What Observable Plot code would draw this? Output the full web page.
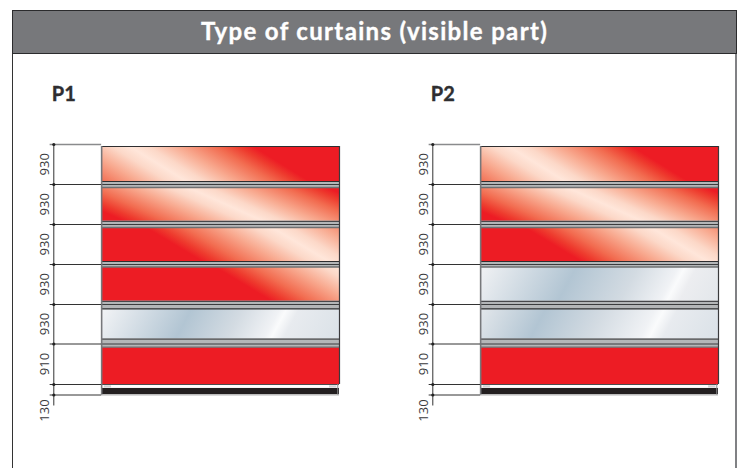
<!DOCTYPE html>
<html><head><meta charset="utf-8">
<script src="https://cdn.jsdelivr.net/npm/d3@7"></script>
<script src="https://cdn.jsdelivr.net/npm/@observablehq/plot@0.6"></script>
<style>
html,body{margin:0;padding:0;background:#fff;width:739px;height:468px;overflow:hidden}
#frame{position:absolute;left:12px;top:10px;width:725px;height:458px;border-left:1.5px solid #333;border-right:2px solid #808184;box-sizing:border-box}
#title{position:absolute;left:12px;top:10px;width:725px;height:44px;box-sizing:border-box;background:#77787b;border:1px solid #2b2b2d;
 color:#fff;font:700 24px Lato,sans-serif;letter-spacing:1.33px;text-align:center;line-height:40px;-webkit-text-stroke:.35px #fff}
#chart{position:absolute;left:0;top:0}
</style></head><body>
<div id="frame"></div><div id="title">Type of curtains (visible part)</div><div id="chart"></div>
<script>
// Data (millimetres)
const doors = ["P1", "P2"];
const sections = [930, 930, 930, 930, 930, 910, 130];
const sectionLabels = ["930", "930", "930", "930", "930", "910", "130"];
const fillsP1 = ["r1", "r2", "r3", "r4", "s1", "red"];
const fillsP2 = ["r1", "r2", "r3", "s2", "s3", "red"];
const doorWidth = 5520; // estimated from the drawing's proportions

const boundaries = [0, ...d3.cumsum(sections)];
const total = boundaries[7];
const mmPerPx = 23.25;
const px = n => n * mmPerPx;
// how far each joint reaches above / below its boundary (px)
const jointUp = [0, 3, 3.2, 3, 3.2, 5, 0];
const jointDown = [2, 3.5, 3.5, 3, 5, 3.5, 0];

const panels = doors.flatMap(door => (door === "P1" ? fillsP1 : fillsP2).map((f, i) => ({
  door, fill: f === "red" ? "#ed1c24" : `url(#${f})`,
  top: boundaries[i] + px(jointDown[i]),
  bottom: boundaries[i + 1] - px(jointUp[i + 1])
})));
const joints = doors.flatMap(door => [1, 2, 3, 4, 5].map(i => ({
  door, b: boundaries[i], top: boundaries[i] - px(jointUp[i]), bottom: boundaries[i] + px(jointDown[i]), i
})));
const ticks = doors.flatMap(door => boundaries.map((b, i) => ({door, b, i})));
const labels = doors.flatMap(door => sections.map((s, i) => ({
  door, t: sectionLabels[i], y: i === 6 ? total + 192 : boundaries[i] + s / 2 - 5
})));
const doorsT = doors.map(d => ({door: d}));

const axisX = -1110, leaderX = -1195;
const W = doorWidth;
const dark = "#2e2e30";

// the drawing's sections are not strictly to scale: the y position follows the section boundaries
const drawn = [144, 184, 224, 264, 304, 343.5, 384, 394.5];
const warp = d3.scaleLinear().domain(boundaries).range(drawn);

const chart = Plot.plot({
  width: 739, height: 468,
  marginLeft: 49, marginRight: 21, marginTop: 0, marginBottom: 0,
  style: {background: "transparent", fontFamily: "'Open Sans',sans-serif"},
  x: {domain: [-1210, W], axis: null},
  y: {domain: [0, 468], range: [0, 468], transform: warp, axis: null},
  fx: {domain: doors, paddingInner: 89 / 379, paddingOuter: 0, axis: null},
  marks: [
    // panels
    Plot.rect(panels, {fx: "door", x1: 0, x2: W, y1: "top", y2: "bottom", fill: "fill"}),
    // joints
    Plot.rect(joints, {fx: "door", x1: 0, x2: W, y1: "top", y2: "bottom", fill: "#b4b6b8"}),
    Plot.ruleY(joints, {fx: "door", y: "top", x1: 0, x2: W, stroke: dark, strokeWidth: 1}),
    Plot.ruleY(joints, {fx: "door", y: "b", x1: 0, x2: W, stroke: dark, strokeWidth: 0.9}),
    Plot.ruleY(joints, {fx: "door", y: d => d.bottom - px(0.5), x1: 0, x2: W, stroke: d => d.i === 4 ? dark : "#6f7072", strokeWidth: 1.3}),
    // top edge and bottom seal
    Plot.ruleY(doorsT, {fx: "door", y: () => px(2), x1: 0, x2: W, stroke: dark, strokeWidth: 1}),
    Plot.ruleY(doorsT, {fx: "door", y: () => boundaries[6], x1: 0, x2: W, stroke: "#4b4b4d", strokeWidth: 1}),
    Plot.rect(doorsT, {fx: "door", x1: 0, x2: W, y1: () => boundaries[6] + 49, y2: () => total - 3, fill: "#231f20"}),
    Plot.ruleY(doorsT, {fx: "door", y: () => total, x1: 0, x2: W, stroke: "#b5b5b5", strokeWidth: 1}),
    Plot.rect(doorsT, {fx: "door", x1: 60, x2: 230, y1: () => boundaries[6] + 16, y2: () => boundaries[6] + 44, fill: "#d0d1d3"}),
    Plot.rect(doorsT, {fx: "door", x1: W - 230, x2: W - 60, y1: () => boundaries[6] + 16, y2: () => boundaries[6] + 44, fill: "#d0d1d3"}),
    // door sides
    Plot.ruleX(doorsT, {fx: "door", x: 0, y1: () => px(2), y2: () => total, stroke: "#77787b", strokeWidth: 1.6}),
    Plot.ruleX(doorsT, {fx: "door", x: W, y1: () => px(2), y2: () => boundaries[6], stroke: "#3a3a3c", strokeWidth: 1.2}),
    Plot.ruleX(doorsT, {fx: "door", x: W - 40, y1: () => boundaries[6], y2: () => total, stroke: "#8a8b8d", strokeWidth: 1}),
    // dimension lines
    Plot.ruleX(doorsT, {fx: "door", x: axisX, y1: () => 0, y2: () => total + 136, stroke: "#333", strokeWidth: 1}),
    Plot.ruleY(ticks, {fx: "door", y: "b", x1: leaderX, x2: 0, stroke: d => d.i === 0 ? "#8a8b8d" : "#333", strokeWidth: d => d.i === 0 ? 1.4 : 1}),
    Plot.dot(ticks, {fx: "door", x: axisX, y: "b", r: 1.6, fill: "#222"}),
    Plot.text(labels, {fx: "door", x: -1320, y: "y", text: "t", rotate: -90, fontSize: 13, fill: "#3a3a3c", textAnchor: "middle"}),
    Plot.text(doorsT, {fx: "door", x: -1155, y: () => -1165, text: "door", fontSize: 20, fontWeight: 700, fill: "#2e2e30", stroke: "#2e2e30", strokeWidth: 0.35, textAnchor: "start", fontFamily: "Lato,sans-serif"})
  ]
});

// Gradients for the panels, placed through the chart's own scales
const xS = chart.scale("x");
const defs = d3.select(chart).insert("defs", ":first-child");
function gradient(id, panelIndex, nx, ny, stops) {
  const X0 = xS.apply(0), Y0 = warp(panels[panelIndex].top);
  const t0 = stops[0][0], t1 = stops[stops.length - 1][0];
  const g = defs.append("linearGradient").attr("id", id).attr("gradientUnits", "userSpaceOnUse")
    .attr("x1", X0 + nx * t0).attr("y1", Y0 + ny * t0).attr("x2", X0 + nx * t1).attr("y2", Y0 + ny * t1);
  for (const [t, c] of stops) g.append("stop").attr("offset", (t - t0) / (t1 - t0)).attr("stop-color", c);
}
const ramp = [[0, "#ed1c24"], [.12, "#ee3c2e"], [.3, "#f26c50"], [.6, "#f8a98f"], [.85, "#fcd8c8"], [1, "#ffe6da"]];
function red(id, i, slope, peak, w) {
  const l = Math.hypot(slope, 1), nx = slope / l, ny = -1 / l;
  const stops = [...ramp.map(([f, c]) => [peak - w + f * w, c]), ...ramp.slice(0, -1).reverse().map(([f, c]) => [peak + w - f * w, c])];
  gradient(id, i, nx, ny, stops);
}
red("r1", 0, .62, 14.8, 65);
red("r2", 1, .45, 35.8, 57);
red("r3", 2, .6, 88, 65);
red("r4", 3, .6, 123.6, 65);
const sn = [.88, .47];
gradient("s1", 4, sn[0], sn[1], [[0, "#f3f4f6"], [80, "#b2c5d3"], [125, "#d3dbe2"], [158, "#f0f2f5"], [164, "#fafbfc"], [175, "#e8ebef"], [222, "#dbe2e8"]]);
gradient("s2", 9, sn[0], sn[1], [[0, "#f1f2f4"], [85, "#b2c5d3"], [140, "#d3dbe2"], [175, "#f0f2f5"], [181, "#fafbfc"], [192, "#ecedf0"], [225, "#e3e7eb"]]);
gradient("s3", 10, sn[0], sn[1], [[0, "#e3e7eb"], [58, "#b2c5d3"], [110, "#d3dbe2"], [155, "#f0f2f5"], [163, "#fafbfc"], [175, "#e8ebef"], [222, "#dbe2e8"]]);

document.getElementById("chart").append(chart);
</script>
</body></html>
